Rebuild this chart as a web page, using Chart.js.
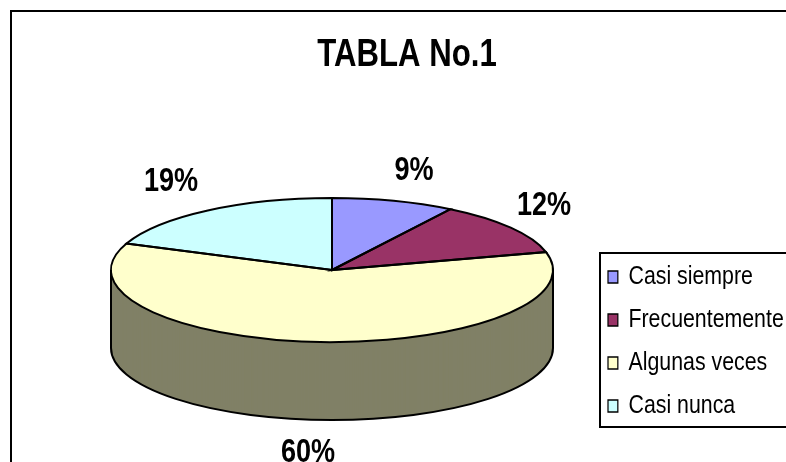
<!DOCTYPE html>
<html>
<head>
<meta charset="utf-8">
<style>
  html, body { margin: 0; background: #fff; }
  #wrap { width: 786px; height: 462px; }
</style>
<script src="https://cdn.jsdelivr.net/npm/chart.js@4/dist/chart.umd.min.js"></script>
</head>
<body>
<div id="wrap"><canvas id="TablaChart"></canvas></div>
<script>
var title = 'TABLA No.1';
var categories = ['Casi siempre', 'Frecuentemente', 'Algunas veces', 'Casi nunca'];
var percentages = [9, 12, 60, 19];
var sliceColors = ['#9999ff', '#993366', '#ffffcc', '#ccffff'];

// the pie is flattened with a canvas transform, these are the picture's numbers
var centerY = 270, radiusX = 221, radiusY = 72, depth = 78;
var sideColor = '#808066';
var frontSlice = 2; // only this slice shows its side
var labelSpots = [[414, 171], [544, 206], [308, 453], [171, 182]];
var fontName = '"Liberation Sans", Arial, sans-serif';
var narrow = 0.82; // the text in the picture is squeezed sideways

function slicePath(ctx, arc, dy, open) {
  ctx.save();
  ctx.translate(0, centerY + dy);
  ctx.scale(1, radiusY / radiusX);
  ctx.translate(0, -arc.y);
  ctx.beginPath();
  if (open) {
    // front half only, for the bottom rim
    ctx.arc(arc.x, arc.y, arc.outerRadius, 0, Math.PI);
  } else {
    ctx.moveTo(arc.x, arc.y);
    ctx.arc(arc.x, arc.y, arc.outerRadius, arc.startAngle, arc.endAngle);
    ctx.closePath();
  }
  ctx.restore();
}

// wrap a layout box so it draws squeezed around x
function squeeze(box, x) {
  var draw = box.draw;
  box.draw = function(area) {
    var ctx = box.ctx;
    ctx.save();
    ctx.translate(x, 0);
    ctx.scale(narrow, 1);
    ctx.translate(-x, 0);
    draw.call(box, area);
    ctx.restore();
  };
}

var squeezed = false;

var pie3d = {
  id: 'pie3d',
  beforeDraw: function(chart) {
    var ctx = chart.ctx;
    // outer frame has only left and top in the picture
    ctx.save();
    ctx.strokeStyle = '#000';
    ctx.lineWidth = 2;
    ctx.beginPath();
    ctx.moveTo(11, 462);
    ctx.lineTo(11, 11);
    ctx.lineTo(786, 11);
    ctx.stroke();
    ctx.restore();

    chart.titleBlock.left = 28;
    chart.titleBlock.right = 786;
    chart.titleBlock.top = 33;

    var lg = chart.legend;
    lg.left = 591; lg.right = 860;
    lg.top = 247; lg.bottom = 462;
    lg.width = 269; lg.height = 215;

    if (!squeezed) {
      squeeze(chart.titleBlock, 407);
      squeeze(lg, 608);
      squeezed = true;
    }
  },
  beforeDatasetsDraw: function(chart) {
    var ctx = chart.ctx;
    var arc = chart.getDatasetMeta(0).data[frontSlice];
    ctx.save();
    ctx.fillStyle = sideColor;
    for (var d = depth; d >= 0; d--) {
      slicePath(ctx, arc, d);
      ctx.fill();
    }
    ctx.strokeStyle = '#000';
    ctx.lineWidth = 2;
    slicePath(ctx, arc, depth, true);
    ctx.stroke();
    ctx.restore();

    ctx.save();
    ctx.translate(0, centerY);
    ctx.scale(1, radiusY / radiusX);
    ctx.translate(0, -arc.y);
  },
  afterDatasetsDraw: function(chart) {
    var ctx = chart.ctx;
    ctx.restore();
    var arcs = chart.getDatasetMeta(0).data;
    ctx.save();
    ctx.strokeStyle = '#000';
    ctx.lineWidth = 2;
    arcs.forEach(function(arc) {
      slicePath(ctx, arc, 0);
      ctx.stroke();
    });
    // side edges of the cylinder
    var a = arcs[frontSlice];
    ctx.beginPath();
    ctx.moveTo(a.x - a.outerRadius, centerY);
    ctx.lineTo(a.x - a.outerRadius, centerY + depth);
    ctx.moveTo(a.x + a.outerRadius, centerY);
    ctx.lineTo(a.x + a.outerRadius, centerY + depth);
    ctx.stroke();
    // percentage labels
    ctx.fillStyle = '#000';
    ctx.font = 'bold 33px ' + fontName;
    ctx.textAlign = 'center';
    ctx.textBaseline = 'middle';
    percentages.forEach(function(p, i) {
      ctx.save();
      ctx.translate(labelSpots[i][0], labelSpots[i][1]);
      ctx.scale(narrow, 1);
      ctx.fillText(p + '%', 0, 0);
      ctx.restore();
    });
    ctx.restore();
    // legend frame
    ctx.save();
    ctx.strokeStyle = '#000';
    ctx.lineWidth = 2;
    ctx.strokeRect(600, 253, 190, 174);
    ctx.restore();
  }
};

var chart = new Chart(document.getElementById('TablaChart'), {
  type: 'pie',
  data: {
    labels: categories,
    datasets: [{
      data: percentages,
      backgroundColor: sliceColors,
      borderWidth: 0,
      radius: radiusX,
      clip: false
    }]
  },
  options: {
    responsive: true,
    maintainAspectRatio: false,
    animation: false,
    layout: { padding: { left: 111, right: 233, top: 0, bottom: 0 } },
    plugins: {
      tooltip: { enabled: false },
      title: {
        display: true,
        text: title,
        color: '#000',
        font: { family: fontName, size: 38, weight: 'bold' },
        padding: 0
      },
      legend: {
        position: 'chartArea',
        align: 'start',
        labels: {
          color: '#000',
          boxWidth: 12,
          boxHeight: 12,
          padding: 17,
          font: { family: fontName, size: 26 },
          generateLabels: function(chart) {
            var items = Chart.overrides.pie.plugins.legend.labels.generateLabels(chart);
            items.forEach(function(it) {
              it.strokeStyle = '#000';
              it.lineWidth = 1.5;
            });
            return items;
          }
        }
      }
    }
  },
  plugins: [pie3d]
});
</script>
</body>
</html>
